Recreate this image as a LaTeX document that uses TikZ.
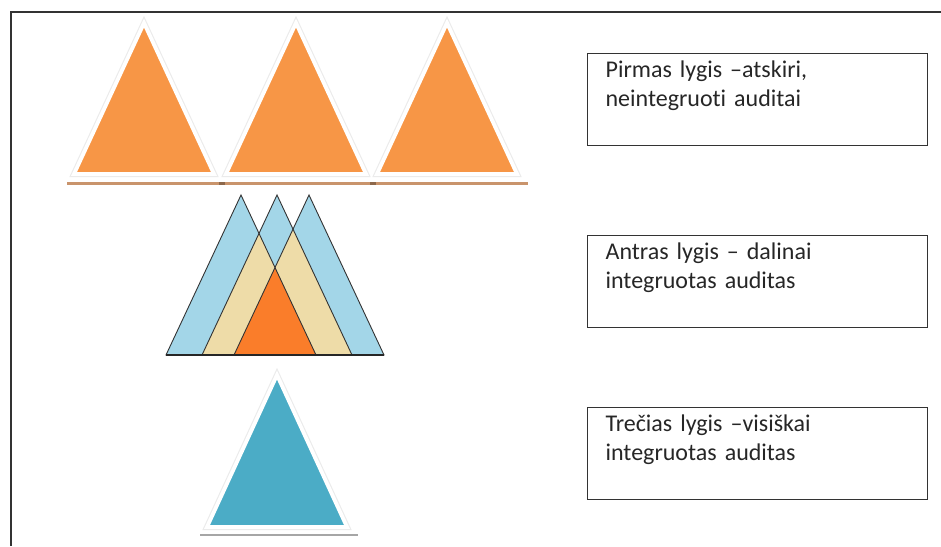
\documentclass[tikz,border=0pt]{standalone}
\usepackage{fontspec}
\setmainfont{Carlito}[Ligatures=NoCommon]
\definecolor{oranzine}{HTML}{F79646}
\definecolor{melyna}{HTML}{A3D6E8}
\definecolor{smelis}{HTML}{EEDCA8}
\definecolor{ryskioranz}{HTML}{FA7D2A}
\definecolor{zydra}{HTML}{4BACC6}
\definecolor{seselis}{HTML}{C9946C}

\begin{document}
\begin{tikzpicture}[x=1pt,y=-1pt,
    lygis/.style={draw=black!80, line width=1.2pt, minimum width=340pt, minimum height=92pt,
        text width=304pt, align=left, inner xsep=18pt, inner ysep=6pt,
        text height=18pt, text depth=62pt, font=\fontsize{24}{29}\selectfont, text=black!85},
    svesa/.style={draw=black!8, line width=6pt, line join=miter},
    krastas/.style={draw=white, line width=3.8pt, line join=miter},
    kontur/.style={draw=black!80, line width=0.9pt}]
    \useasboundingbox (0,0) rectangle (941,546);
    \draw[black!80, line width=1.5pt] (11,546) -- (11,12) -- (941,12);
    \foreach \x in {144,296,447} {
        \draw[svesa] (\x,23) -- (\x-70,174) -- (\x+70,174) -- cycle;
        \filldraw[krastas, fill=oranzine] (\x,23) -- (\x-70,174) -- (\x+70,174) -- cycle;
    }
    \draw[seselis, line width=3pt] (67,183) -- (528,183);
    \fill[seselis!70!black] (219,181.5) rectangle (225,184.5);
    \fill[seselis!70!black] (370,181.5) rectangle (376,184.5);
    \fill[melyna] (241,195) -- (166,355) -- (316,355) -- cycle;
    \fill[melyna] (277,195) -- (202,355) -- (352,355) -- cycle;
    \fill[melyna] (309,195) -- (234,355) -- (384,355) -- cycle;
    \begin{scope}
        \clip (277,195) -- (202,355) -- (352,355) -- cycle;
        \fill[smelis] (241,195) -- (166,355) -- (316,355) -- cycle;
        \fill[smelis] (309,195) -- (234,355) -- (384,355) -- cycle;
    \end{scope}
    \begin{scope}
        \clip (241,195) -- (166,355) -- (316,355) -- cycle;
        \fill[ryskioranz] (309,195) -- (234,355) -- (384,355) -- cycle;
    \end{scope}
    \draw[kontur] (241,195) -- (166,355) -- (316,355) -- cycle;
    \draw[kontur] (277,195) -- (202,355) -- (352,355) -- cycle;
    \draw[kontur] (309,195) -- (234,355) -- (384,355) -- cycle;
    \draw[black!85, line width=1.6pt] (166,355) -- (384,355);
    \draw[svesa] (277,375) -- (207,527) -- (347,527) -- cycle;
    \filldraw[krastas, fill=zydra] (277,375) -- (207,527) -- (347,527) -- cycle;
    \draw[black!35, line width=2.5pt] (200,535) -- (358,535);
    \node[lygis, anchor=north west] (pirmas) at (587,53) {Pirmas lygis --atskiri,\\neintegruoti auditai};
    \node[lygis, anchor=north west] (antras) at (587,235) {Antras lygis -- dalinai\\integruotas auditas};
    \node[lygis, anchor=north west] (trecias) at (587,407) {Trečias lygis --visiškai\\integruotas auditas};
\end{tikzpicture}
\end{document}
